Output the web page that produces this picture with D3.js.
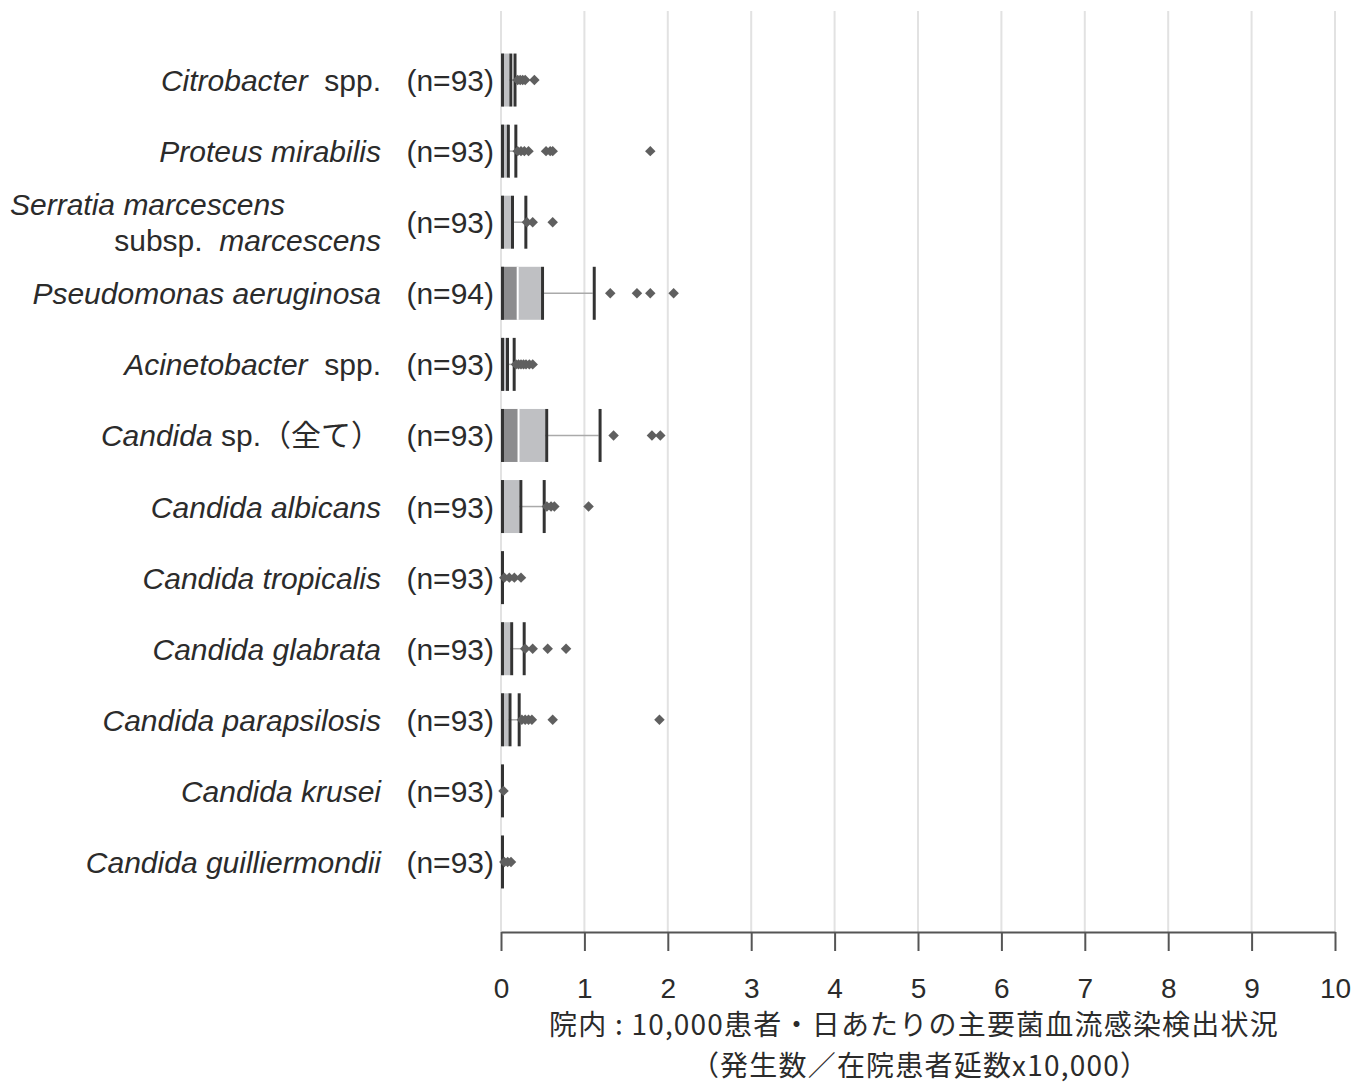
<!DOCTYPE html>
<html lang="ja">
<head>
    <meta charset="UTF-8">
    <title>主要菌血流感染検出状況</title>
    <style>
        body { margin: 0; background: #fff; }
        text { fill: #2b2b2b; }
    </style>
</head>
<body>
<div id="chart"></div>
<script src="https://cdn.jsdelivr.net/npm/d3@7"></script>
<script>
    // data
    const species = [
        ["Citrobacter", "  spp."],
        ["Proteus mirabilis", ""],
        ["Serratia marcescens", "subsp.  marcescens"],
        ["Pseudomonas aeruginosa", ""],
        ["Acinetobacter", "  spp."],
        ["Candida", " sp.（全て）"],
        ["Candida albicans", ""],
        ["Candida tropicalis", ""],
        ["Candida glabrata", ""],
        ["Candida parapsilosis", ""],
        ["Candida krusei", ""],
        ["Candida guilliermondii", ""]
    ];
    const nCounts = [93, 93, 93, 94, 93, 93, 93, 93, 93, 93, 93, 93];
    const mins    = [0, 0, 0, 0, 0, 0, 0, 0, 0, 0, 0, 0];
    const q1s     = [0, 0, 0, 0, 0, 0, 0, 0, 0, 0, 0, 0];
    const medians = [0, 0, 0, 0.20, 0, 0.21, 0, 0, 0, 0, 0, 0];
    const q3s     = [0.10, 0.07, 0.12, 0.48, 0.06, 0.53, 0.22, 0, 0.11, 0.09, 0, 0];
    const maxs    = [0.15, 0.16, 0.28, 1.10, 0.14, 1.17, 0.50, 0, 0.26, 0.20, 0, 0];
    const outliers = [
        [0.20, 0.23, 0.26, 0.29, 0.40],
        [0.20, 0.24, 0.28, 0.33, 0.54, 0.59, 0.62, 1.79],
        [0.31, 0.38, 0.62],
        [1.31, 1.63, 1.79, 2.07],
        [0.18, 0.21, 0.24, 0.27, 0.30, 0.34, 0.38],
        [1.35, 1.81, 1.91],
        [0.55, 0.60, 0.64, 1.05],
        [0.04, 0.10, 0.16, 0.24],
        [0.29, 0.38, 0.56, 0.78],
        [0.25, 0.29, 0.33, 0.37, 0.62, 1.90],
        [0.03],
        [0.04, 0.08, 0.12]
    ];
    const xTicks = [0, 1, 2, 3, 4, 5, 6, 7, 8, 9, 10];
    const xTitle = ["院内 : 10,000患者・日あたりの主要菌血流感染検出状況", "（発生数／在院患者延数x10,000）"];

    const width = 1368, height = 1083;
    const font = "'Liberation Sans', Arial, 'Noto Sans CJK JP', sans-serif";

    const rows = species.map((s, i) => ({
        i: i, name: s, n: nCounts[i], min: mins[i], q1: q1s[i], med: medians[i],
        q3: q3s[i], max: maxs[i], out: outliers[i]
    }));

    let svg = d3.select("#chart")
        .append("svg")
        .attr("width", width)
        .attr("height", height)
        .style("font-family", font);

    var x = d3.scaleLinear().domain([0, 10]).range([501, 1335]);
    var y = d3.scaleBand().domain(d3.range(rows.length)).range([44.5, 897.5]);
    const boxH = 53;
    const cy = i => y(i) + y.bandwidth() / 2;

    // grid
    svg.append("g")
        .selectAll("line")
        .data(xTicks)
        .join("line")
        .attr("x1", d => x(d)).attr("x2", d => x(d))
        .attr("y1", 11).attr("y2", 932)
        .attr("stroke", "#e2e2e2")
        .attr("stroke-width", 2);

    // x axis
    let xAxis = d3.axisBottom(x)
        .tickValues(xTicks)
        .tickSize(19)
        .tickSizeOuter(0)
        .tickPadding(27)
        .tickFormat(d3.format("d"));

    let ax = svg.append("g")
        .attr("transform", "translate(0, 932)")
        .call(xAxis);
    ax.select(".domain").attr("stroke", "#555").attr("stroke-width", 2);
    ax.selectAll(".tick line").attr("stroke", "#555").attr("stroke-width", 2);
    ax.selectAll(".tick text")
        .attr("font-size", 28)
        .attr("font-family", font)
        .attr("fill", "#2b2b2b");

    // axis title, two lines
    svg.append("g")
        .selectAll("text")
        .data(xTitle)
        .join("text")
        .attr("x", (d, i) => i ? 920 : 914)
        .attr("y", (d, i) => i ? 1076 : 1035)
        .attr("text-anchor", "middle")
        .attr("font-size", 28)
        .attr("letter-spacing", 1.2)
        .attr("font-family", "'Noto Sans CJK JP', sans-serif")
        .style("white-space", "pre")
        .text(d => d);

    // labels
    let lab = svg.append("g").attr("font-size", 30);
    rows.forEach(r => {
        if (r.i === 2) {
            lab.append("text")
                .attr("x", 10).attr("y", cy(r.i) - 7)
                .attr("font-style", "italic")
                .text(r.name[0]);
            let t = lab.append("text")
                .attr("x", 381).attr("y", cy(r.i) + 29)
                .attr("text-anchor", "end")
                .style("white-space", "pre");
            t.append("tspan").text("subsp.  ");
            t.append("tspan").attr("font-style", "italic").text("marcescens");
        } else {
            let t = lab.append("text")
                .attr("x", 381).attr("y", cy(r.i) + 11)
                .attr("text-anchor", "end")
                .style("white-space", "pre");
            t.append("tspan").attr("font-style", "italic").text(r.name[0]);
            if (r.name[1]) t.append("tspan").text(r.name[1]);
        }
        lab.append("text")
            .attr("x", 494).attr("y", cy(r.i) + 11)
            .attr("text-anchor", "end")
            .text(`(n=${r.n})`);
    });

    // boxes
    let g = svg.append("g");
    let box = g.selectAll("g.box")
        .data(rows)
        .join("g")
        .classed("box", true)
        .attr("transform", d => `translate(0, ${cy(d.i)})`);

    // whisker
    box.append("line")
        .attr("x1", d => x(d.q3)).attr("x2", d => x(d.max))
        .attr("y1", 0).attr("y2", 0)
        .attr("stroke", "#aaaaaa").attr("stroke-width", 1.5);

    box.append("rect")
        .attr("x", d => x(d.q1)).attr("width", d => x(d.med) - x(d.q1))
        .attr("y", -boxH / 2).attr("height", boxH)
        .attr("fill", "#8c8c8e");
    box.append("rect")
        .attr("x", d => x(d.med)).attr("width", d => x(d.q3) - x(d.med))
        .attr("y", -boxH / 2).attr("height", boxH)
        .attr("fill", "#bfc0c3");
    // median
    box.filter(d => d.med > d.q1 && d.med < d.q3)
        .append("line")
        .attr("x1", d => x(d.med)).attr("x2", d => x(d.med))
        .attr("y1", -boxH / 2).attr("y2", boxH / 2)
        .attr("stroke", "#fff").attr("stroke-width", 2);

    // dark edges: min, q3, max
    box.selectAll("line.edge")
        .data(d => Array.from(new Set([d.min, d.q3, d.max])))
        .join("line")
        .classed("edge", true)
        .attr("x1", v => x(v) + 1.5).attr("x2", v => x(v) + 1.5)
        .attr("y1", -boxH / 2).attr("y2", boxH / 2)
        .attr("stroke", "#333").attr("stroke-width", 3);

    // outliers
    const sym = d3.symbol().type(d3.symbolDiamond2).size(70);
    box.selectAll("path.out")
        .data(d => d.out)
        .join("path")
        .classed("out", true)
        .attr("transform", v => `translate(${x(v)}, 0)`)
        .attr("d", sym)
        .attr("fill", "#5f5f5f");
</script>
</body>
</html>
